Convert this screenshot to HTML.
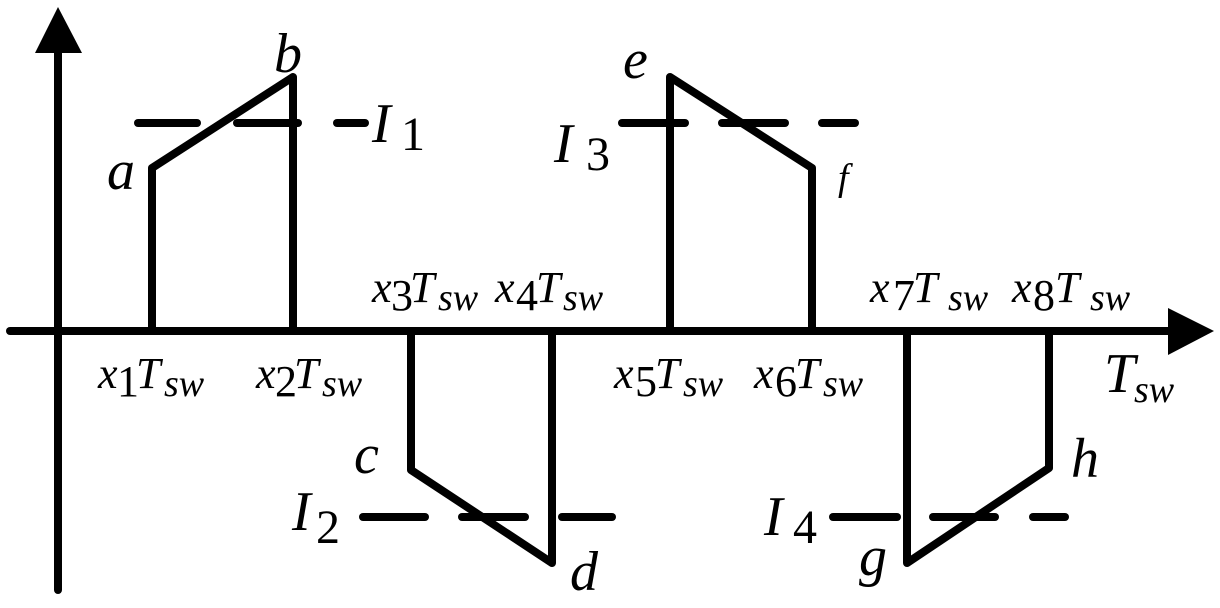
<!DOCTYPE html>
<html><head><meta charset="utf-8"><style>
html,body{margin:0;padding:0;background:#fff;}
svg text{font-family:"Liberation Serif","Times New Roman","DejaVu Serif",serif;fill:#000;}
.L{font-style:italic;font-size:56px;}
.i{font-style:italic;font-size:44px;}
.n{font-size:44px;}
.m{font-size:48px;}
.s{font-style:italic;font-size:38px;}
</style></head><body>
<svg width="1220" height="603" viewBox="0 0 1220 603" xmlns="http://www.w3.org/2000/svg" font-family="Liberation Serif, serif">
<g stroke="#000" stroke-width="8" fill="none" stroke-linecap="round" stroke-linejoin="round">
<line x1="58" y1="40" x2="58" y2="590"/>
<line x1="10" y1="331" x2="1180" y2="331"/>
<polyline points="152,331 152,168 293,77 293,331"/>
<polyline points="411,331 411,470 552,563 552,331"/>
<polyline points="670,331 670,77 812,168 812,331"/>
<polyline points="907,331 907,563 1049,468 1049,331"/>
<line x1="138" y1="123" x2="197" y2="123"/><line x1="237" y1="123" x2="298" y2="123"/><line x1="337" y1="123" x2="365" y2="123"/>
<line x1="622" y1="123" x2="685" y2="123"/><line x1="722" y1="123" x2="785" y2="123"/><line x1="822" y1="123" x2="855" y2="123"/>
<line x1="363" y1="517" x2="425" y2="517"/><line x1="462" y1="517" x2="525" y2="517"/><line x1="562" y1="517" x2="612" y2="517"/>
<line x1="833" y1="517" x2="897" y2="517"/><line x1="933" y1="517" x2="995" y2="517"/><line x1="1033" y1="517" x2="1065" y2="517"/>
</g>
<polygon points="58,7 35,53 82,53" fill="#000"/>
<polygon points="1214,331 1168,308 1168,355" fill="#000"/>
<text class="i" x="98" y="388">x</text><text class="n" x="117" y="396">1</text><text class="i" x="136" y="388">T</text><text class="s" x="164" y="396">sw</text>
<text class="i" x="256" y="388">x</text><text class="n" x="275" y="396">2</text><text class="i" x="294" y="388">T</text><text class="s" x="322" y="396">sw</text>
<text class="i" x="372" y="302">x</text><text class="n" x="391" y="310">3</text><text class="i" x="410" y="302">T</text><text class="s" x="438" y="310">sw</text>
<text class="i" x="495" y="302">x</text><text class="n" x="516" y="310">4</text><text class="i" x="536" y="302">T</text><text class="s" x="563" y="310">sw</text>
<text class="i" x="614" y="388">x</text><text class="n" x="635" y="396">5</text><text class="i" x="655" y="388">T</text><text class="s" x="683" y="396">sw</text>
<text class="i" x="754" y="388">x</text><text class="n" x="775" y="396">6</text><text class="i" x="795" y="388">T</text><text class="s" x="823" y="396">sw</text>
<text class="i" x="870" y="302">x</text><text class="n" x="893" y="310">7</text><text class="i" x="913" y="302">T</text><text class="s" x="948" y="310">sw</text>
<text class="i" x="1012" y="302">x</text><text class="n" x="1033" y="310">8</text><text class="i" x="1055" y="302">T</text><text class="s" x="1090" y="310">sw</text>
<text class="L" x="1104" y="392">T</text><text class="s" x="1134" y="402">sw</text>
<text class="L" x="107" y="189">a</text>
<text class="L" x="274" y="72">b</text>
<text class="L" x="372" y="142">I</text><text class="m" x="401" y="150">1</text>
<text class="L" x="623" y="78">e</text>
<text class="L" x="554" y="162">I</text><text class="m" x="586" y="170">3</text>
<text class="s" x="838" y="190">f</text>
<text class="L" x="354" y="473">c</text>
<text class="L" x="570" y="590">d</text>
<text class="L" x="292" y="530">I</text><text class="m" x="316" y="543">2</text>
<text class="L" x="764" y="535">I</text><text class="m" x="793" y="543">4</text>
<text class="L" x="859" y="575">g</text>
<text class="L" x="1071" y="477">h</text>
</svg>
</body></html>
